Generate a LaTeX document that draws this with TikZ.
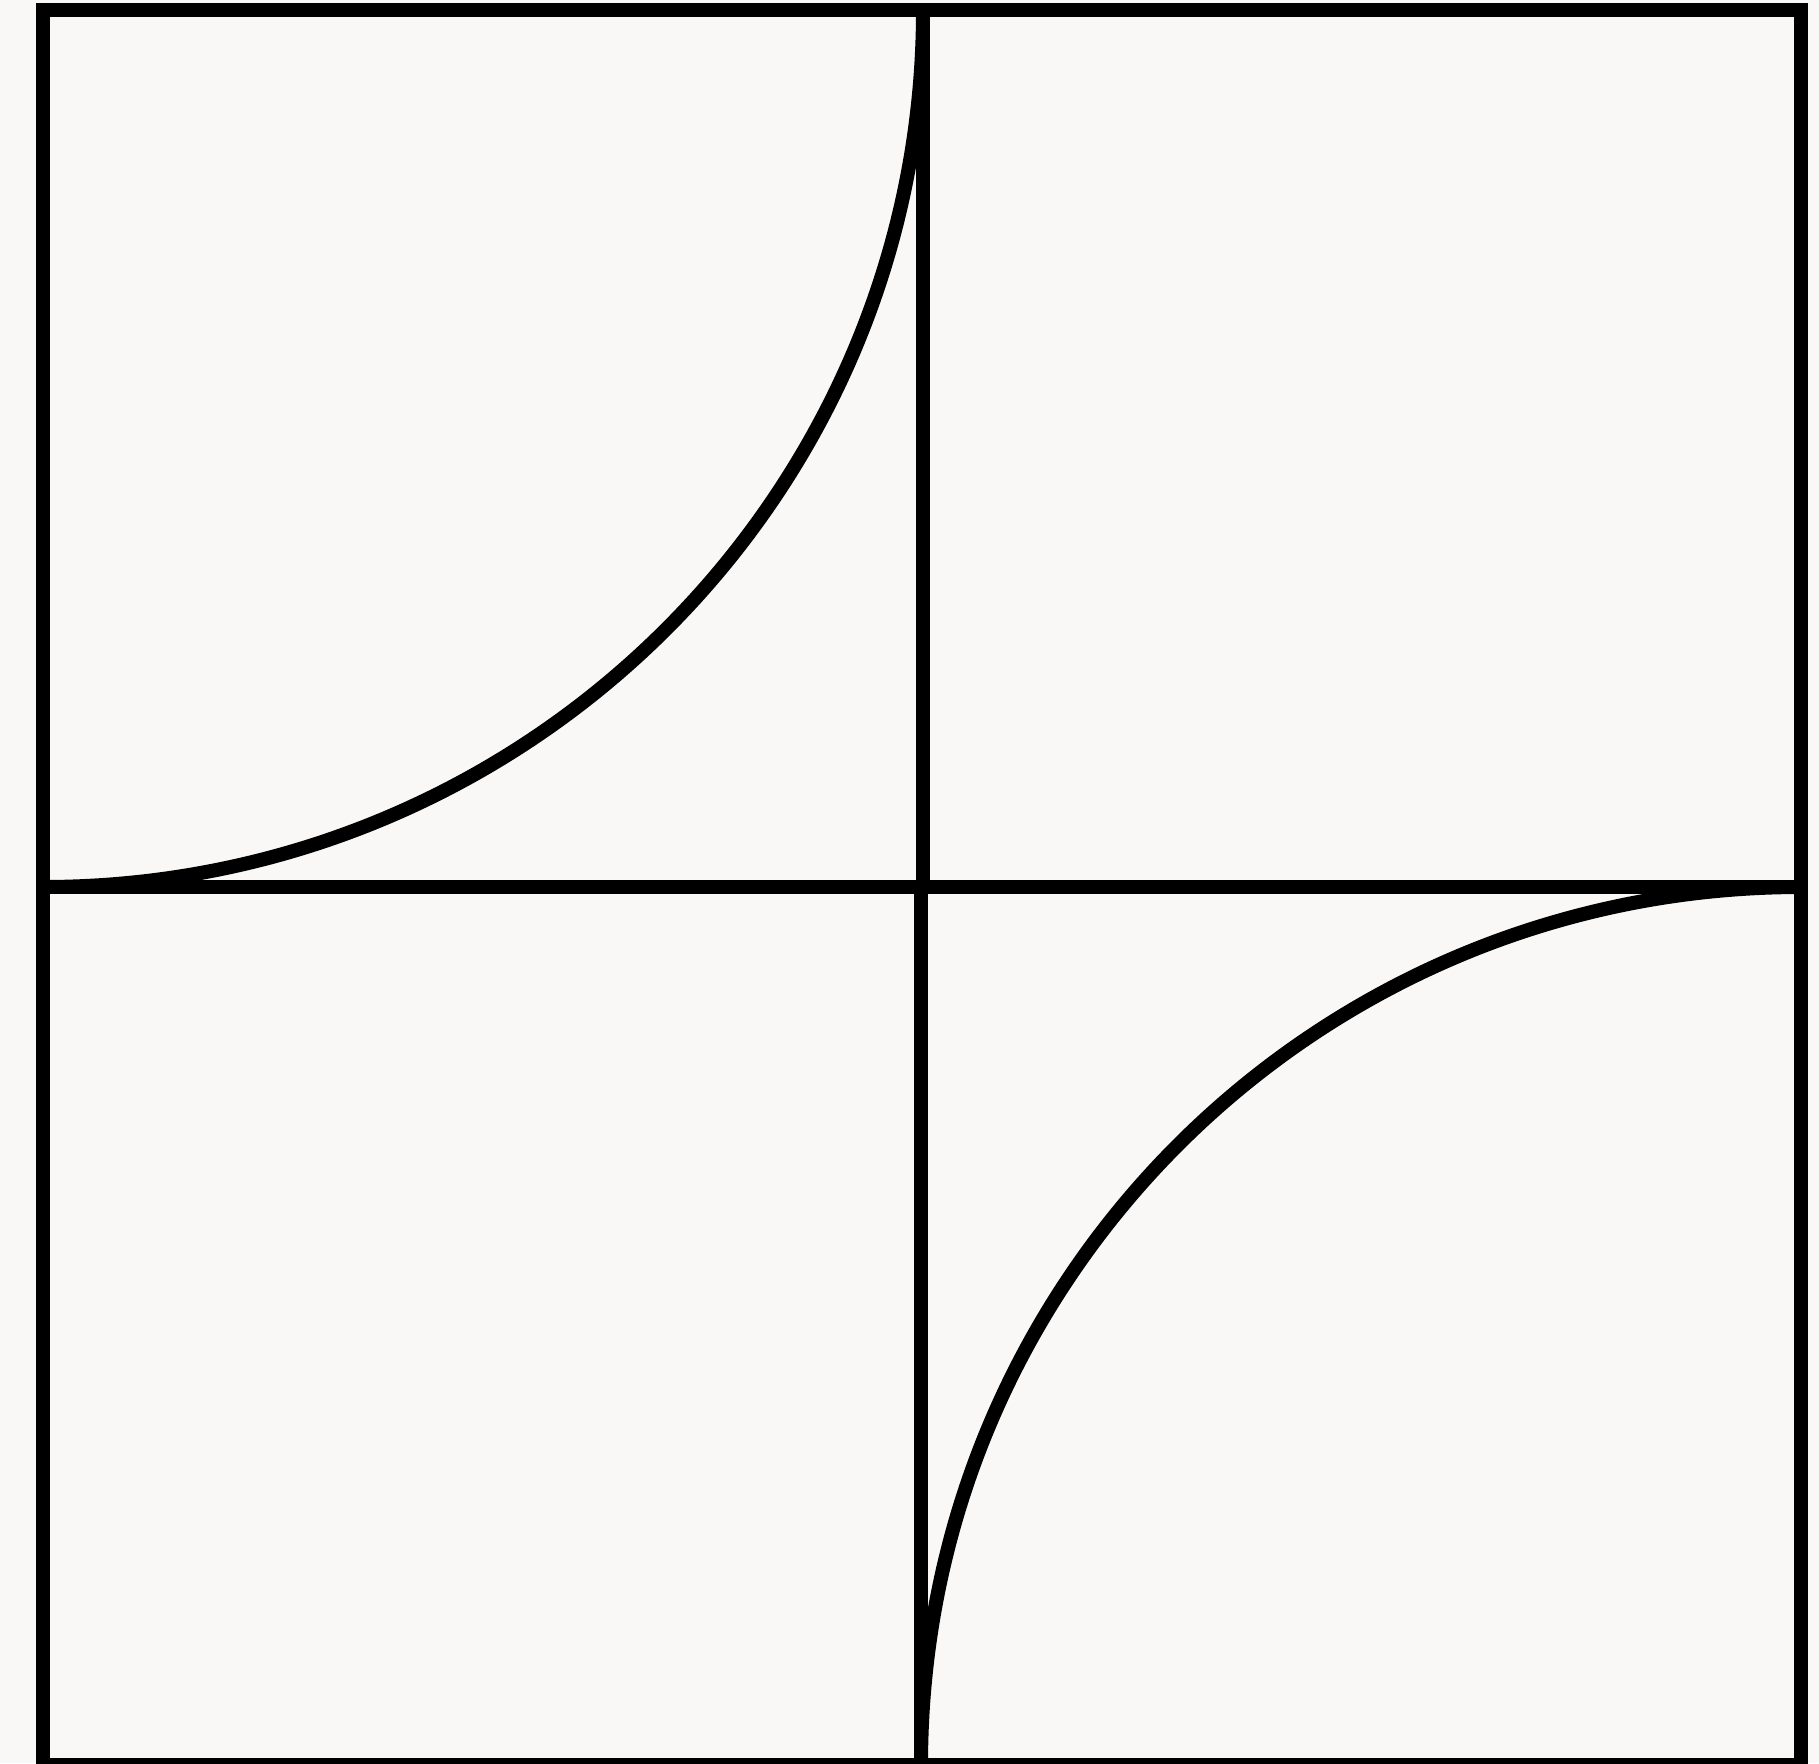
\documentclass[tikz,border=0pt]{standalone}
\definecolor{paper}{HTML}{F9F8F6}
\begin{document}
\begin{tikzpicture}[x=0.01cm,y=-0.01cm,
  edge/.style={draw=black,line width=0.14cm,line join=miter}]
\fill[paper] (0,0) rectangle (1819,1763);
\useasboundingbox (0,0) rectangle (1819,1763);
% corners
\coordinate (tl) at (43,10);
\coordinate (tm) at (923,10);
\coordinate (tr) at (1801,10);
\coordinate (ml) at (43,887);
\coordinate (mmu) at (923,887);
\coordinate (mmd) at (921,887);
\coordinate (mr) at (1801,887);
\coordinate (bl) at (43,1765);
\coordinate (bm) at (921,1765);
\coordinate (br) at (1801,1765);
% four squares
\draw[edge] (tl) rectangle (mmu);
\draw[edge] (tm) rectangle (mr);
\draw[edge] (ml) rectangle (bm);
\draw[edge] (mmd) rectangle (br);
% quarter arcs
\draw[edge] (tm) .. controls (923,494) and (529,887) .. (ml);
\draw[edge] (mr) .. controls (1315,887) and (921,1280) .. (bm);
\end{tikzpicture}
\end{document}
